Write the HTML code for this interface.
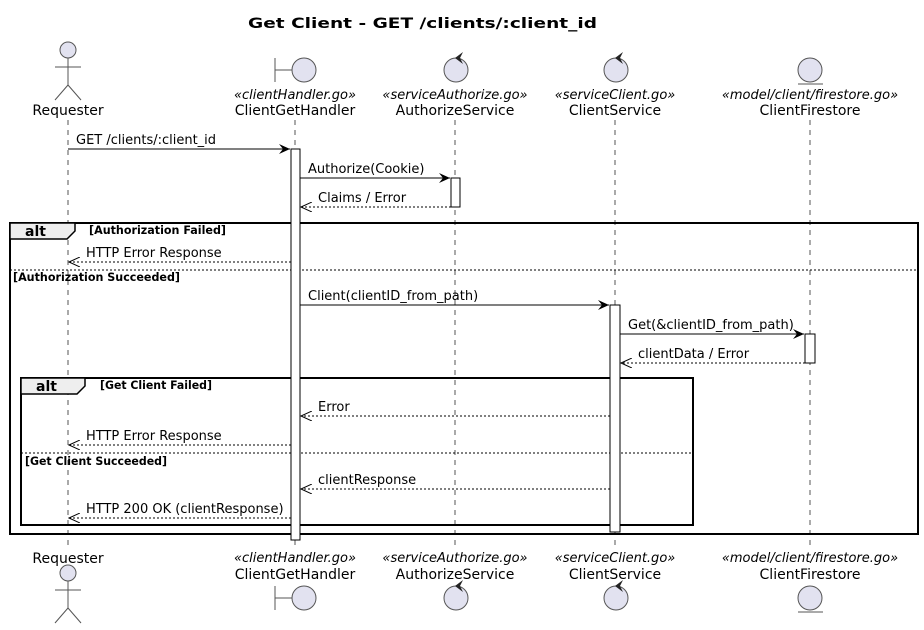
<!DOCTYPE html>
<html><head><meta charset="utf-8"><style>
html,body{margin:0;padding:0;background:#fff}
svg{display:block}
text{font-family:"DejaVu Sans","Liberation Sans",sans-serif;fill:#000}
.m{font-size:13px}
.st{font-size:13px;font-style:italic}
.nm{font-size:14px}
.g{font-size:11.2px;font-weight:bold}
.ll{stroke:#555;stroke-width:1;stroke-dasharray:5,5}
.ic{fill:#e2e2f0;stroke:#555;stroke-width:1}
.act{fill:#fff;stroke:#000;stroke-width:1}
.sl{stroke:#000;stroke-width:1}
.dl{stroke:#000;stroke-width:1;stroke-dasharray:2,2}
</style></head><body>
<svg width="924" height="630" viewBox="0 0 924 630" xmlns="http://www.w3.org/2000/svg">
<defs>
<marker id="fa" markerWidth="12" markerHeight="10" refX="11" refY="5" orient="auto" markerUnits="userSpaceOnUse"><path d="M0,0 L11,5 L0,10 L4,5 Z" fill="#000"/></marker>
<marker id="oa" markerWidth="12" markerHeight="10" refX="11" refY="5" orient="auto" markerUnits="userSpaceOnUse"><path d="M0,0 L11,5 L0,10" fill="none" stroke="#000"/></marker>
</defs>
<text x="248" y="28" textLength="349" lengthAdjust="spacingAndGlyphs" style="font-size:14px;font-weight:bold">Get Client - GET /clients/:client_id</text>

<!-- lifelines -->
<line class="ll" x1="68" y1="120" x2="68" y2="545"/>
<line class="ll" x1="295" y1="120" x2="295" y2="545"/>
<line class="ll" x1="455" y1="120" x2="455" y2="545"/>
<line class="ll" x1="615" y1="120" x2="615" y2="545"/>
<line class="ll" x1="810" y1="120" x2="810" y2="545"/>

<!-- top participants -->
<g>
<circle class="ic" cx="68" cy="50" r="8"/>
<line x1="68" y1="58" x2="68" y2="85" stroke="#555"/>
<line x1="55" y1="67" x2="81" y2="67" stroke="#555"/>
<line x1="68" y1="85" x2="55" y2="100" stroke="#555"/><line x1="68" y1="85" x2="81" y2="100" stroke="#555"/>
<text class="nm" x="68" y="115" text-anchor="middle">Requester</text>

<line x1="275" y1="58" x2="275" y2="82" stroke="#555"/><line x1="275" y1="70" x2="292" y2="70" stroke="#555"/>
<circle class="ic" cx="304" cy="70" r="12"/>
<text class="st" x="295" y="99" text-anchor="middle">«clientHandler.go»</text>
<text class="nm" x="295" y="115" text-anchor="middle">ClientGetHandler</text>

<circle class="ic" cx="456" cy="70" r="12"/>
<path d="M455,58 L463,52 L460,58 L463,64 Z" fill="#222"/>
<text class="st" x="455" y="99" text-anchor="middle">«serviceAuthorize.go»</text>
<text class="nm" x="455" y="115" text-anchor="middle">AuthorizeService</text>

<circle class="ic" cx="616" cy="70" r="12"/>
<path d="M615,58 L623,52 L620,58 L623,64 Z" fill="#222"/>
<text class="st" x="615" y="99" text-anchor="middle">«serviceClient.go»</text>
<text class="nm" x="615" y="115" text-anchor="middle">ClientService</text>

<circle class="ic" cx="810" cy="70" r="12"/>
<line x1="798" y1="84" x2="823" y2="84" stroke="#555"/>
<text class="st" x="810" y="99" text-anchor="middle">«model/client/firestore.go»</text>
<text class="nm" x="810" y="115" text-anchor="middle">ClientFirestore</text>
</g>

<!-- bottom participants -->
<g>
<text class="nm" x="68" y="563" text-anchor="middle">Requester</text>
<circle class="ic" cx="68" cy="573" r="8"/>
<line x1="68" y1="581" x2="68" y2="608" stroke="#555"/>
<line x1="55" y1="590" x2="81" y2="590" stroke="#555"/>
<line x1="68" y1="608" x2="55" y2="623" stroke="#555"/><line x1="68" y1="608" x2="81" y2="623" stroke="#555"/>

<text class="st" x="295" y="562" text-anchor="middle">«clientHandler.go»</text>
<text class="nm" x="295" y="579" text-anchor="middle">ClientGetHandler</text>
<line x1="275" y1="586" x2="275" y2="610" stroke="#555"/><line x1="275" y1="598" x2="292" y2="598" stroke="#555"/>
<circle class="ic" cx="304" cy="598" r="12"/>

<text class="st" x="455" y="562" text-anchor="middle">«serviceAuthorize.go»</text>
<text class="nm" x="455" y="579" text-anchor="middle">AuthorizeService</text>
<circle class="ic" cx="456" cy="598" r="12"/>
<path d="M455,586 L463,580 L460,586 L463,592 Z" fill="#222"/>

<text class="st" x="615" y="562" text-anchor="middle">«serviceClient.go»</text>
<text class="nm" x="615" y="579" text-anchor="middle">ClientService</text>
<circle class="ic" cx="616" cy="598" r="12"/>
<path d="M615,586 L623,580 L620,586 L623,592 Z" fill="#222"/>

<text class="st" x="810" y="562" text-anchor="middle">«model/client/firestore.go»</text>
<text class="nm" x="810" y="579" text-anchor="middle">ClientFirestore</text>
<circle class="ic" cx="810" cy="598" r="12"/>
<line x1="798" y1="612" x2="823" y2="612" stroke="#555"/>
</g>

<!-- outer alt -->
<rect x="10" y="223" width="908" height="311" fill="none" stroke="#000" stroke-width="2"/>
<path d="M10,223 L75,223 L75,231 L67,239 L10,239 Z" fill="#eee" stroke="#000" stroke-width="1.5"/>
<text x="25" y="236" style="font-size:14px;font-weight:bold">alt</text>
<text class="g" x="89" y="234" textLength="137" lengthAdjust="spacingAndGlyphs">[Authorization Failed]</text>
<line class="dl" x1="10" y1="270" x2="918" y2="270"/>
<text class="g" x="13" y="281" textLength="167" lengthAdjust="spacingAndGlyphs">[Authorization Succeeded]</text>

<!-- inner alt -->
<rect x="21" y="378" width="672" height="147" fill="none" stroke="#000" stroke-width="2"/>
<path d="M21,378 L85,378 L85,386 L77,394 L21,394 Z" fill="#eee" stroke="#000" stroke-width="1.5"/>
<text x="36" y="391" style="font-size:14px;font-weight:bold">alt</text>
<text class="g" x="100" y="389" textLength="112" lengthAdjust="spacingAndGlyphs">[Get Client Failed]</text>
<line class="dl" x1="21" y1="453" x2="693" y2="453"/>
<text class="g" x="25" y="465" textLength="142" lengthAdjust="spacingAndGlyphs">[Get Client Succeeded]</text>

<!-- activations -->
<rect class="act" x="291" y="149" width="9" height="391"/>
<rect class="act" x="451" y="178" width="9" height="29"/>
<rect class="act" x="610" y="305" width="10" height="227"/>
<rect class="act" x="805" y="334" width="10" height="29"/>

<!-- messages -->
<line class="sl" x1="68" y1="149" x2="290" y2="149" marker-end="url(#fa)"/>
<text class="m" x="76" y="144">GET /clients/:client_id</text>

<line class="sl" x1="300" y1="178" x2="450" y2="178" marker-end="url(#fa)"/>
<text class="m" x="308" y="173">Authorize(Cookie)</text>

<line class="dl" x1="451" y1="207" x2="301" y2="207" marker-end="url(#oa)"/>
<text class="m" x="318" y="202">Claims / Error</text>

<line class="dl" x1="291" y1="262" x2="69" y2="262" marker-end="url(#oa)"/>
<text class="m" x="86" y="257">HTTP Error Response</text>

<line class="sl" x1="300" y1="305" x2="609" y2="305" marker-end="url(#fa)"/>
<text class="m" x="308" y="300">Client(clientID_from_path)</text>

<line class="sl" x1="620" y1="334" x2="804" y2="334" marker-end="url(#fa)"/>
<text class="m" x="628" y="329">Get(&amp;clientID_from_path)</text>

<line class="dl" x1="805" y1="363" x2="621" y2="363" marker-end="url(#oa)"/>
<text class="m" x="638" y="358">clientData / Error</text>

<line class="dl" x1="610" y1="416" x2="301" y2="416" marker-end="url(#oa)"/>
<text class="m" x="318" y="411">Error</text>

<line class="dl" x1="291" y1="445" x2="69" y2="445" marker-end="url(#oa)"/>
<text class="m" x="86" y="440">HTTP Error Response</text>

<line class="dl" x1="610" y1="489" x2="301" y2="489" marker-end="url(#oa)"/>
<text class="m" x="318" y="484">clientResponse</text>

<line class="dl" x1="291" y1="518" x2="69" y2="518" marker-end="url(#oa)"/>
<text class="m" x="86" y="513">HTTP 200 OK (clientResponse)</text>
</svg>
</body></html>
